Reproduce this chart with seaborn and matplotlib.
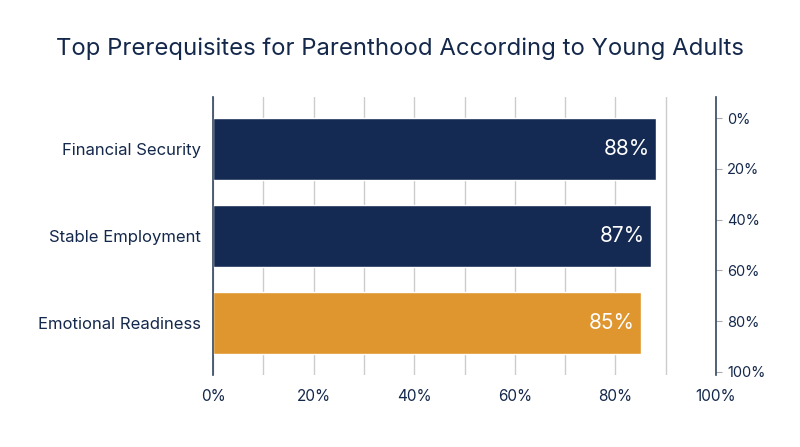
import seaborn as sns
import matplotlib.pyplot as plt
import pandas as pd

categories = ["Financial Security", "Stable Employment", "Emotional Readiness"]
values = [88, 87, 85]
bar_colors = ["#142a52", "#142a52", "#e0962f"]
x_ticks = [0, 20, 40, 60, 80, 100]
right_ticks = [0, 20, 40, 60, 80, 100]

df = pd.DataFrame({"Prerequisite": categories, "Percent": values})

sns.set_style("white")
plt.rcParams["font.family"] = ["Inter", "DejaVu Sans"]
navy = "#14284b"

fig = plt.figure(figsize=(8, 4.47), dpi=100)
ax = fig.add_axes([0.26625, 0.161, 0.62875, 0.622])

sns.barplot(data=df, x="Percent", y="Prerequisite", hue="Prerequisite",
            palette=bar_colors, saturation=1, legend=False, width=0.72,
            ax=ax, zorder=2)

ax.set_xlim(0, 100)
ax.set_ylim(2.6, -0.6)
ax.set_xticks(x_ticks)
ax.set_xticklabels([f"{t}%" for t in x_ticks], fontsize=11, color=navy)
ax.set_xticks(range(0, 100, 10), minor=True)
ax.grid(axis="x", which="both", color="#cccccc", linewidth=1, zorder=0)
ax.set_axisbelow(True)
ax.tick_params(axis="x", length=0, pad=10)
ax.tick_params(axis="y", length=0, pad=9, labelsize=12, labelcolor=navy)
ax.set_xlabel("")
ax.set_ylabel("")
for s in ["top", "right", "bottom"]:
    ax.spines[s].set_visible(False)
ax.spines["left"].set_color("#34455e")
ax.spines["left"].set_linewidth(1.2)

for i, v in enumerate(values):
    ax.text(v - 1.2, i, f"{v}%", ha="right", va="center",
            color="white", fontsize=15)

ax2 = ax.twinx()
ax2.set_ylim(101.2, -8.3)
ax2.set_yticks(right_ticks)
ax2.set_yticklabels([f"{t}%" for t in right_ticks], fontsize=10.5, color=navy)
ax2.tick_params(axis="y", length=4, color="#aaaaaa", pad=4)
for s in ["top", "left", "bottom"]:
    ax2.spines[s].set_visible(False)
ax2.spines["right"].set_color("#34455e")
ax2.spines["right"].set_linewidth(1.2)

fig.suptitle("Top Prerequisites for Parenthood According to Young Adults",
             x=0.5, y=0.915, fontsize=17.2, color=navy)

fig.savefig("out.png", dpi=100, facecolor="white")
